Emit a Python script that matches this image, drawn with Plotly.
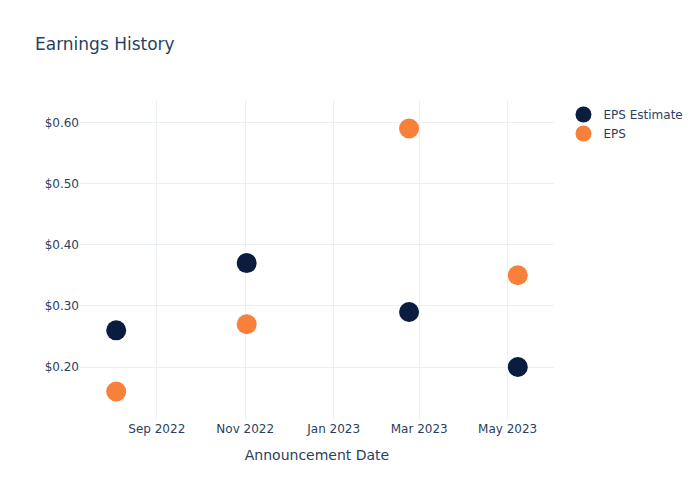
import plotly.graph_objects as go

dates = ["2022-08-04", "2022-11-02", "2023-02-22", "2023-05-08"]
eps_estimate = [0.26, 0.37, 0.29, 0.20]
eps_actual = [0.16, 0.27, 0.59, 0.35]

fig = go.Figure()
fig.add_trace(go.Scatter(x=dates, y=eps_estimate, mode="markers", name="EPS Estimate",
                         marker=dict(color="#0b1d3f", size=20)))
fig.add_trace(go.Scatter(x=dates, y=eps_actual, mode="markers", name="EPS",
                         marker=dict(color="#f7803a", size=20)))
fig.update_layout(
    template="plotly_white",
    width=700, height=500,
    font=dict(family="DejaVu Sans"),
    title=dict(text="Earnings History"),
    xaxis=dict(title=dict(text="Announcement Date")),
    yaxis=dict(tickprefix="$", tickformat=".2f"),
)
fig.write_html("out.html")
